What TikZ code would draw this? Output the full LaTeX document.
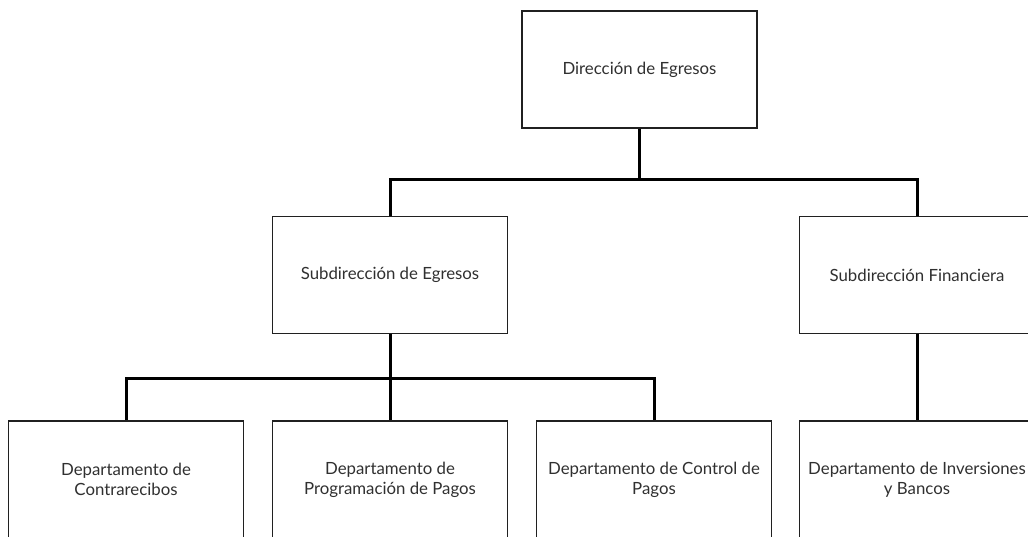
\documentclass[tikz,border=0pt]{standalone}
\usepackage{fontspec}
\setmainfont{Lato}
\usepackage{tikz}
\definecolor{boxline}{HTML}{202020}
\definecolor{boxtext}{HTML}{303030}
\tikzset{unitbox/.style={rectangle, draw=boxline, line width=1.2pt, fill=white,
                         minimum width=235pt, minimum height=117pt, inner sep=0pt,
                         align=center, text=boxtext, font=\fontsize{16.8pt}{20pt}\selectfont},
         linkline/.style={line width=3pt, black}}

\begin{document}
\begin{tikzpicture}[x=1pt,y=-1pt]
	\useasboundingbox (0,0) rectangle (1028,537);
	\clip (0,0) rectangle (1028,537);
	\node[unitbox] (DE) at (639.5,69.5) {Dirección de Egresos};
	\node[unitbox] (SE) at (390,275) {Subdirección de Egresos};
	\node[unitbox] (SF) at (917,275) {Subdirección Financiera};
	\node[unitbox] (DC) at (126,479.5) {Departamento de\\Contrarecibos};
	\node[unitbox] (DP) at (390,479.5) {Departamento de\\Programación de Pagos};
	\node[unitbox] (DK) at (654,479.5) {Departamento de Control de\\Pagos};
	\node[unitbox] (DI) at (917,479.5) {Departamento de Inversiones\\y Bancos};
	\coordinate (busA) at (639.5,180);
	\coordinate (busB) at (390,378);
	\draw[linkline] (DE.south) -- (busA);
	\draw[linkline] (busA) -| (SE.north);
	\draw[linkline] (busA) -| (SF.north);
	\draw[linkline] (SE.south) -- (busB);
	\draw[linkline] (busB) -| (DC.north);
	\draw[linkline] (busB) -- (DP.north);
	\draw[linkline] (busB) -| (DK.north);
	\draw[linkline] (SF.south) -- (DI.north);
\end{tikzpicture}
\end{document}
